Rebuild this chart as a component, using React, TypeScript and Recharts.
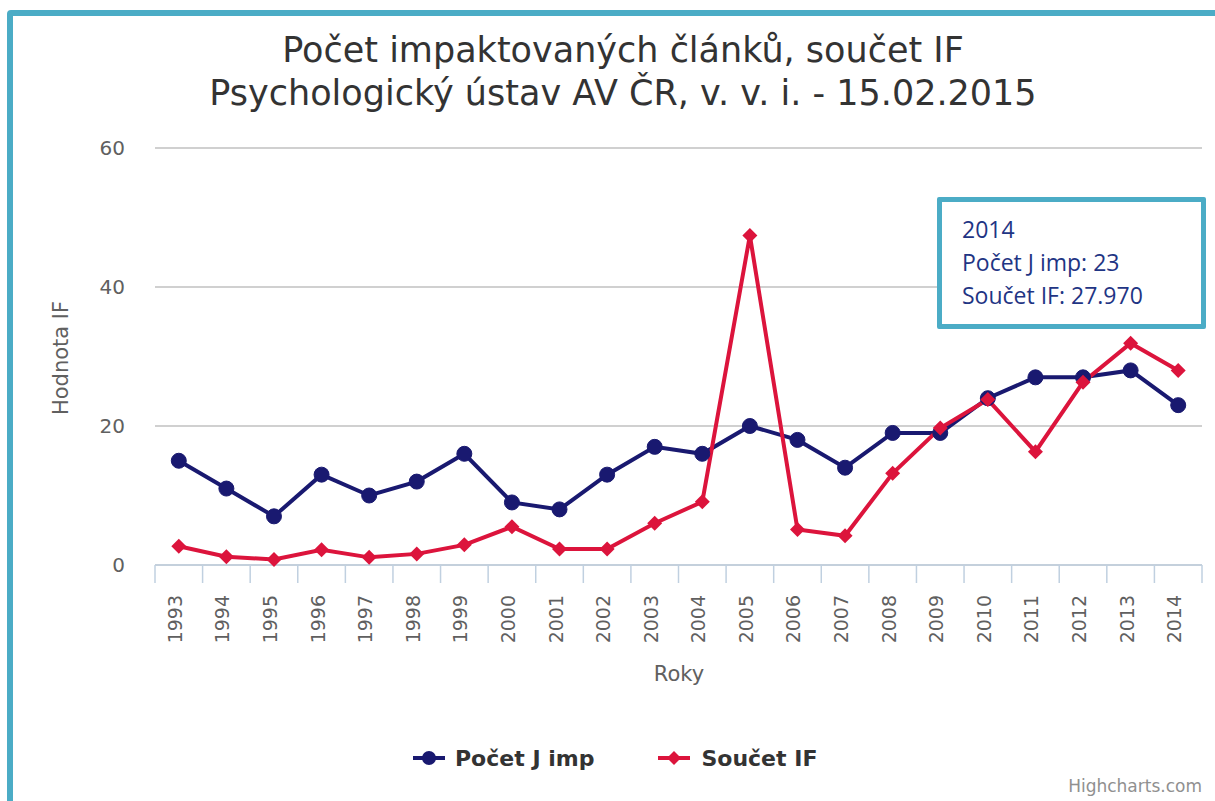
import React from 'react';
import {
  LineChart,
  Line,
  XAxis,
  YAxis,
  CartesianGrid,
  Legend,
} from 'recharts';

const years = [
  '1993', '1994', '1995', '1996', '1997', '1998', '1999', '2000', '2001', '2002', '2003',
  '2004', '2005', '2006', '2007', '2008', '2009', '2010', '2011', '2012', '2013', '2014',
];
const pocetJImp = [15, 11, 7, 13, 10, 12, 16, 9, 8, 13, 17, 16, 20, 18, 14, 19, 19, 24, 27, 27, 28, 23];
const soucetIF = [
  2.7, 1.2, 0.8, 2.2, 1.1, 1.6, 2.9, 5.5, 2.3, 2.3, 6.0,
  9.1, 47.4, 5.1, 4.2, 13.2, 19.7, 23.8, 16.3, 26.3, 31.9, 27.97,
];
const yTicks = [0, 20, 40, 60];

const data = years.map((year, i) => ({ year, pocet: pocetJImp[i], soucet: soucetIF[i] }));

const NAVY = '#191970';
const RED = '#DC143C';
const FRAME = '#4BACC6';
const FONT = '"DejaVu Sans", sans-serif';

const W = 1215;
const H = 801;
const PLOT_LEFT = 155;
const PLOT_RIGHT = 1202;
const PLOT_TOP = 148;
const AXIS_Y = 565;
const BAND = (PLOT_RIGHT - PLOT_LEFT) / years.length;

const XTick = (props: any) => {
  const { x, payload, index } = props;
  return (
    <g>
      <line x1={x - BAND / 2} x2={x - BAND / 2} y1={AXIS_Y} y2={AXIS_Y + 18} stroke="#C0D0E0" strokeWidth={1.5} />
      {index === years.length - 1 && (
        <line x1={x + BAND / 2} x2={x + BAND / 2} y1={AXIS_Y} y2={AXIS_Y + 18} stroke="#C0D0E0" strokeWidth={1.5} />
      )}
      <text
        transform={`translate(${x + 3},${AXIS_Y + 30}) rotate(-90)`}
        textAnchor="end"
        fontFamily={FONT}
        fontSize={19}
        fill="#606060"
      >
        {payload.value}
      </text>
    </g>
  );
};

const YTick = (props: any) => {
  const { y, payload } = props;
  return (
    <text x={125} y={y + 7} textAnchor="end" fontFamily={FONT} fontSize={20} fill="#606060">
      {payload.value}
    </text>
  );
};

const Diamond = (props: any) => {
  const { cx, cy } = props;
  if (cx == null || cy == null) return null;
  const s = 7.5;
  return (
    <polygon
      points={`${cx},${cy - s} ${cx + s},${cy} ${cx},${cy + s} ${cx - s},${cy}`}
      fill={RED}
    />
  );
};

const LegendContent = () => (
  <div
    style={{
      height: 40,
      width: W,
      display: 'flex',
      alignItems: 'center',
      paddingLeft: 413,
      boxSizing: 'border-box',
      fontFamily: FONT,
      fontWeight: 'bold',
      fontSize: 22,
      color: '#333',
    }}
  >
    <svg width={32} height={20} style={{ marginRight: 10 }}>
      <line x1={0} x2={32} y1={10} y2={10} stroke={NAVY} strokeWidth={4} />
      <circle cx={16} cy={10} r={7} fill={NAVY} />
    </svg>
    <span>Počet J imp</span>
    <svg width={32} height={20} style={{ marginLeft: 64, marginRight: 11 }}>
      <line x1={0} x2={32} y1={10} y2={10} stroke={RED} strokeWidth={4} />
      <polygon points="16,3 23,10 16,17 9,10" fill={RED} />
    </svg>
    <span>Součet IF</span>
  </div>
);

const last = years.length - 1;

export default function App() {
  return (
    <div
      style={{
        position: 'absolute',
        left: 0,
        top: 0,
        width: W,
        height: H,
        overflow: 'hidden',
        background: '#fff',
      }}
    >
      <div
        style={{
          position: 'absolute',
          left: 7,
          top: 10,
          width: 1260,
          height: 900,
          border: `6px solid ${FRAME}`,
          borderRadius: 4,
        }}
      />
      <div
        style={{
          position: 'absolute',
          left: 0,
          top: 29,
          width: 1246,
          textAlign: 'center',
          fontFamily: FONT,
          fontSize: 35,
          lineHeight: '43px',
          color: '#333',
        }}
      >
        <div>Počet impaktovaných článků, součet IF</div>
        <div>Psychologický ústav AV ČR, v. v. i. - 15.02.2015</div>
      </div>

      <div style={{ position: 'absolute', left: 0, top: 0 }}>
        <LineChart
          width={W}
          height={H}
          data={data}
          margin={{ top: PLOT_TOP, right: W - PLOT_RIGHT, left: 0, bottom: 23 }}
        >
          <CartesianGrid vertical={false} stroke="#C0C0C0" strokeWidth={1.5} />
          <XAxis
            dataKey="year"
            interval={0}
            height={173}
            padding={{ left: BAND / 2, right: BAND / 2 }}
            tick={<XTick />}
            tickLine={false}
            axisLine={{ stroke: '#C0D0E0', strokeWidth: 1.5 }}
            label={() => (
              <text x={679} y={681} textAnchor="middle" fontFamily={FONT} fontSize={21} fill="#606060">
                Roky
              </text>
            )}
          />
          <YAxis
            width={PLOT_LEFT}
            domain={[0, 60]}
            ticks={yTicks}
            tick={<YTick />}
            tickLine={false}
            axisLine={false}
            label={() => (
              <text
                transform={`translate(68,358) rotate(-90)`}
                textAnchor="middle"
                fontFamily={FONT}
                fontSize={21}
                fill="#606060"
              >
                Hodnota IF
              </text>
            )}
          />
          <Legend verticalAlign="bottom" content={<LegendContent />} wrapperStyle={{ left: 0, width: W }} />
          <Line
            dataKey="pocet"
            name="Počet J imp"
            stroke={NAVY}
            strokeWidth={4}
            dot={{ r: 7.5, fill: NAVY, stroke: NAVY, strokeWidth: 1 }}
            isAnimationActive={false}
          />
          <Line
            dataKey="soucet"
            name="Součet IF"
            stroke={RED}
            strokeWidth={4}
            dot={<Diamond />}
            isAnimationActive={false}
          />
        </LineChart>
      </div>

      <div
        style={{
          position: 'absolute',
          left: 1000,
          top: 776,
          width: 202,
          textAlign: 'right',
          fontFamily: FONT,
          fontSize: 17,
          color: '#909090',
        }}
      >
        Highcharts.com
      </div>

      <div
        style={{
          position: 'absolute',
          left: 937,
          top: 197,
          width: 269,
          height: 132,
          boxSizing: 'border-box',
          border: `5px solid ${FRAME}`,
          borderRadius: 2,
          background: '#fff',
          padding: '11px 0 0 20px',
          fontFamily: '"Open Sans", sans-serif',
          fontSize: 23,
          lineHeight: '33px',
          color: '#1F3584',
        }}
      >
        <div>{years[last]}</div>
        <div>Počet J imp: {pocetJImp[last]}</div>
        <div>Součet IF: {soucetIF[last].toFixed(3)}</div>
      </div>
    </div>
  );
}
